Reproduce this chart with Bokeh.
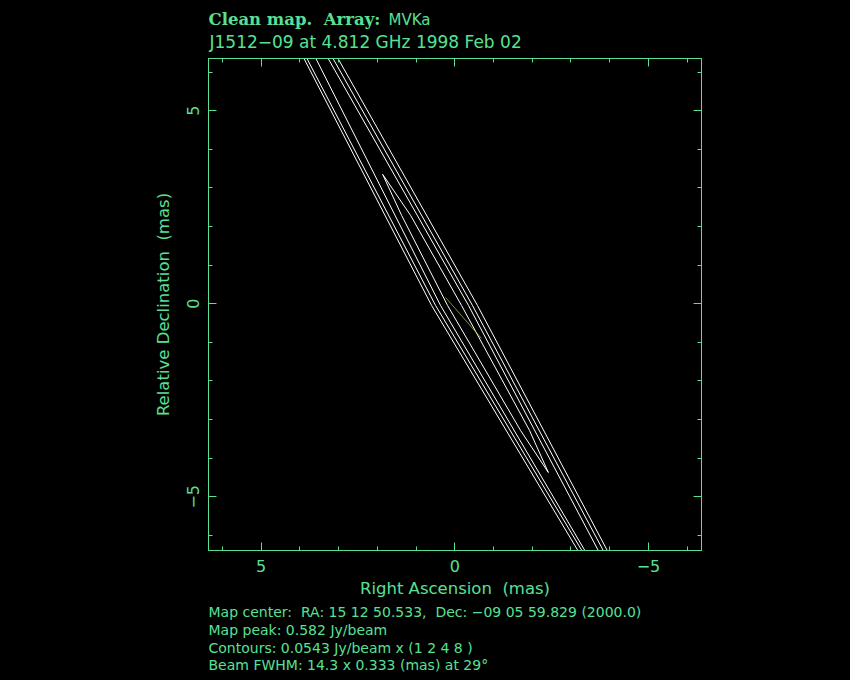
from bokeh.plotting import figure
from bokeh.models import Range1d, LinearAxis, FixedTicker, Label, CustomLabelingPolicy
from bokeh.layouts import column
from bokeh.embed import file_html
from bokeh.resources import INLINE

# ---------------- data (mas) ----------------
ra_ticks = [5, 0, -5]
minor = [-6, -4, -3, -2, -1, 1, 2, 3, 4, 6]
tick_labels = {5: "5", 0: "0", -5: "\u22125"}

# contour polylines (RA, Dec in mas)
line_dec = [6.459, -0.044, -6.495]
c1_ra = [3.951, 0.600, -3.240]
c2_ra = [3.874, 0.497, -3.343]
c3_ra = [3.642, 0.369, -3.420]
c4_ra = [3.332, -0.353, -3.760]
c5_ra = [3.206, -0.456, -3.889]
c6_ra = [3.077, -0.585, -3.992]
# innermost closed contour (0.434 Jy/beam)
loop_ra = [1.863, 1.374, 0.188, -1.698, -2.415, -1.930, -0.173, 1.142, 1.863]
loop_dec = [3.350, 2.288, -0.044, -3.282, -4.370, -3.282, -0.044, 2.288, 3.350]
# faint marker line
mark_ra = [0.24, -0.688]
mark_dec = [0.163, -0.899]

contours = [(c1_ra, line_dec), (c2_ra, line_dec), (c3_ra, line_dec),
            (c4_ra, line_dec), (c5_ra, line_dec), (c6_ra, line_dec),
            (loop_ra, loop_dec)]

title_bold = "Clean map.\u00a0\u00a0Array:"
title_array = "MVKa"
title_line2 = "J1512\u221209 at 4.812 GHz 1998 Feb 02"
notes = ["Map center:\u00a0\u00a0RA: 15 12 50.533,\u00a0\u00a0Dec: \u221209 05 59.829 (2000.0)",
         "Map peak: 0.582 Jy/beam",
         "Contours: 0.0543 Jy/beam x (1 2 4 8 )",
         "Beam FWHM: 14.3 x 0.333 (mas) at 29\u00b0"]

GREEN = "#58e095"
FONT = "DejaVu Sans"


def text_panel(h, y0):
    # panel whose frame lines up with the map frame (page pixels 208..701)
    f = figure(frame_width=493, frame_height=h,
               min_border_left=208, min_border_right=149,
               min_border_top=0, min_border_bottom=0,
               x_range=Range1d(208, 701), y_range=Range1d(y0 + h, y0),
               output_backend="svg", toolbar_location=None,
               background_fill_color="black", border_fill_color="black",
               x_axis_type=None, y_axis_type=None)
    f.outline_line_color = None
    f.grid.visible = False
    return f


# ---------------- title panel ----------------
top = text_panel(54, 0)
top.add_layout(Label(x=208, y=19, text=title_bold,
                     text_font="DejaVu Serif", text_font_style="bold",
                     text_font_size="16.5px", text_color=GREEN,
                     text_baseline="middle", text_align="left"))
top.add_layout(Label(x=388, y=19, text=title_array, text_font=FONT,
                     text_font_size="15px", text_color=GREEN,
                     text_baseline="middle", text_align="left"))
top.add_layout(Label(x=209, y=41, text=title_line2,
                     text_font=FONT, text_font_size="17px", text_color=GREEN,
                     text_baseline="middle", text_align="left"))

# ---------------- map ----------------
p = figure(frame_width=493, frame_height=492,
           min_border_left=208, min_border_right=149,
           min_border_top=3, min_border_bottom=50,
           x_range=Range1d(6.36, -6.37), y_range=Range1d(-6.39, 6.35),
           output_backend="svg", toolbar_location=None,
           background_fill_color="black", border_fill_color="black",
           x_axis_type=None, y_axis_type=None)
p.outline_line_color = GREEN
p.outline_line_width = 1
p.grid.visible = False

ticker = FixedTicker(ticks=ra_ticks, minor_ticks=minor)
no_labels = CustomLabelingPolicy(code="""
const all = Array.from(indices)
for (const i of all) { indices.unset(i) }
return indices
""")


def style_axis(ax, show_labels):
    ax.ticker = ticker
    ax.axis_line_color = GREEN
    ax.major_tick_line_color = GREEN
    ax.minor_tick_line_color = GREEN
    ax.major_tick_in = 8
    ax.major_tick_out = 0
    ax.minor_tick_in = 4
    ax.minor_tick_out = 0
    ax.major_label_text_color = GREEN
    ax.major_label_text_font = FONT
    if show_labels:
        ax.major_label_overrides = tick_labels
        ax.major_label_text_font_size = "16px"
    else:
        ax.major_label_policy = no_labels
        ax.major_label_text_font_size = "1px"
        ax.major_label_standoff = 0
    ax.axis_label_text_color = GREEN
    ax.axis_label_text_font = FONT
    ax.axis_label_text_font_size = "16.5px"
    ax.axis_label_text_font_style = "normal"


xb = LinearAxis(axis_label="Right Ascension\u00a0\u00a0(mas)")
style_axis(xb, True)
xb.major_label_standoff = 9
xb.axis_label_standoff = 4
p.add_layout(xb, "below")

yl = LinearAxis(axis_label="Relative Declination\u00a0\u00a0(mas)")
style_axis(yl, True)
yl.major_label_orientation = "vertical"
yl.major_label_standoff = 9
yl.axis_label_standoff = 12
p.add_layout(yl, "left")

xt = LinearAxis()
style_axis(xt, False)
p.add_layout(xt, "above")
yr = LinearAxis()
style_axis(yr, False)
p.add_layout(yr, "right")

for ra, dec in contours:
    p.line(ra, dec, line_color="white", line_width=1)
p.line(mark_ra, mark_dec, line_color="#b8c848", line_width=1, line_alpha=0.7)

# ---------------- notes panel ----------------
bot = text_panel(80, 600)
note_y = [611, 629, 647, 664]
for t, yy in zip(notes, note_y):
    bot.add_layout(Label(x=208, y=yy, text=t, text_font=FONT,
                         text_font_size="14px", text_color=GREEN,
                         text_baseline="middle", text_align="left"))

layout = column(top, p, bot, spacing=0)
html = file_html(layout, INLINE)
html = html.replace("<body>", '<body style="background:black">')
open("out.html", "w").write(html)
